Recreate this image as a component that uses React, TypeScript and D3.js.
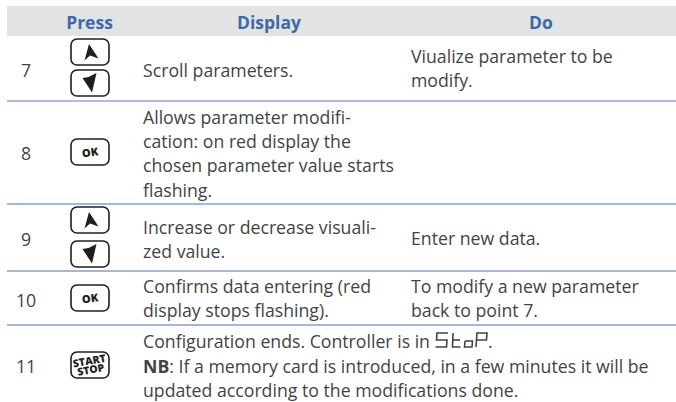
import React from "react";
import * as d3 from "d3";

const columns = ["Press", "Display", "Do"];
const rowNumbers = ["7", "8", "9", "10", "11"];
const rowKeys = [["up", "down"], ["ok"], ["up", "down"], ["ok"], ["start"]];
const displayLines = [
  ["Scroll parameters."],
  [
    "Allows parameter modifi-",
    "cation: on red display the",
    "chosen parameter value starts",
    "flashing.",
  ],
  ["Increase or decrease visuali-", "zed value."],
  ["Confirms data entering (red", "display stops flashing)."],
  ["Configuration ends. Controller is in"],
];
const doLines = [
  ["Viualize parameter to be", "modify."],
  [],
  ["Enter new data."],
  ["To modify a new parameter", "back to point 7."],
  [],
];
const noteLines = [
  ": If a memory card is introduced, in a few minutes it will be",
  "updated according to the modifications done.",
];

const W = 676;
const H = 402;
const FONT = "'Open Sans', sans-serif";
const TEXT = "#434345";
const BLUE = "#3f68a8";

// layout
const HEAD_BOTTOM = 36;
const rules = [101, 204, 271, 325];
const numberBase = [77, 160, 246, 307, 373];
const displayBase = [76.5, 124, 234, 293, 347.5];
const doBase = [63, 0, 245, 293, 0];
const keyTops = [[39, 70], [139], [207, 241], [285], [352]];
const LINE = 24.2;
const X_DISPLAY = 143;
const X_DO = 411;

const xHead = d3.scaleOrdinal<string, number>().domain(columns).range([89.5, 269, 541]);

const lineGen = d3.line();
const segPaths: [number, number][][] = [
  [[448, 333], [437, 333], [436.5, 340], [447, 340], [446.5, 347], [435.5, 347]],
  [[453, 333], [452.5, 347], [460.5, 347]],
  [[452.5, 340], [460, 340]],
  [[465, 341], [472.5, 341], [472, 347], [464.5, 347], [465, 341]],
  [[476, 347], [477, 333], [487, 333], [486.5, 340], [476.5, 340]],
];

const Key = ({ kind, y }: { kind: string; y: number }) => {
  const arrowUp: [number, number][] = [[18, 5], [13.5, 21.5], [19, 16.5], [27.5, 19.5]];
  const arrowDown: [number, number][] = [[11.5, 8], [17.5, 7], [25.5, 3], [21, 22.5]];
  return (
    <g transform={`translate(71,${y})`}>
      <rect x={0} y={0} width={38} height={26} rx={6} fill="#fff" stroke="#1f1f20" strokeWidth={1.6} />
      {kind === "up" && <path d={lineGen(arrowUp)! + "Z"} fill="#1f1f20" />}
      {kind === "down" && <path d={lineGen(arrowDown)! + "Z"} fill="#1f1f20" />}
      {kind === "ok" && (
        <text x={19} y={17.5} textAnchor="middle" fontFamily={FONT} fontWeight={800} fontSize={11} fill="#1f1f20" transform="rotate(-8 19 13)">
          OK
        </text>
      )}
      {kind === "start" && (
        <g fontFamily={FONT} fontWeight={800} fontSize={10.5} fill="#1f1f20" textAnchor="middle" transform="rotate(-10 19 13)">
          <text x={19} y={12.5}>START</text>
          <text x={19} y={21.5}>STOP</text>
        </g>
      )}
    </g>
  );
};

export default function App() {
  return (
    <svg width={W} height={H} style={{ position: "absolute", left: 0, top: 0, background: "#fff" }}>
      <rect x={7} y={6} width={W - 7} height={HEAD_BOTTOM - 6} fill="#e2e3e3" />
      {columns.map((c) => (
        <text key={c} x={xHead(c)} y={29} textAnchor="middle" fontFamily={FONT} fontWeight={700} fontSize={17.5} fill={BLUE}>
          {c}
        </text>
      ))}
      {rules.map((y, i) => (
        <line key={y} x1={7} x2={W} y1={y} y2={y} stroke={i === 0 ? "#5f7db3" : "#86a0c8"} strokeWidth={i === 0 ? 1 : 1.5} />
      ))}
      <g fontFamily={FONT} fontSize={17.7} fill={TEXT}>
        {rowNumbers.map((n, i) => (
          <text key={n} x={26} y={numberBase[i]} textAnchor="middle">{n}</text>
        ))}
        {displayLines.map((lines, i) =>
          lines.map((t, j) => (
            <text key={t} x={X_DISPLAY} y={displayBase[i] + j * LINE}>{t}</text>
          ))
        )}
        {doLines.map((lines, i) =>
          lines.map((t, j) => (
            <text key={t} x={X_DO} y={doBase[i] + j * LINE}>{t}</text>
          ))
        )}
        <text x={488} y={347.5}>.</text>
        <text x={X_DISPLAY} y={372.5}>
          <tspan fontWeight={700}>NB</tspan>
          {noteLines[0]}
        </text>
        <text x={X_DISPLAY} y={397}>{noteLines[1]}</text>
      </g>
      <g fill="none" stroke={TEXT} strokeWidth={1.6}>
        <title>StoP</title>
        {segPaths.map((p, i) => (
          <path key={i} d={lineGen(p)!} />
        ))}
      </g>
      {rowKeys.map((keys, i) =>
        keys.map((k, j) => <Key key={`${i}-${j}`} kind={k} y={keyTops[i][j]} />)
      )}
    </svg>
  );
}
